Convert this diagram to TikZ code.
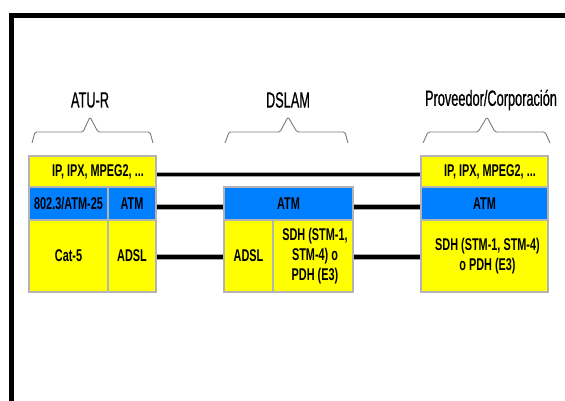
\documentclass[tikz,border=0pt]{standalone}
\usepackage{fontspec}
\newfontfamily\labfont{Liberation Sans}[FakeStretch=0.58,FakeBold=0.6]
\newfontfamily\boxfont{Liberation Sans}[FakeStretch=0.64]
\definecolor{yel}{HTML}{FFFF00}
\definecolor{blu}{HTML}{0080FF}
\definecolor{bordergray}{HTML}{B4B4B4}
\definecolor{bracegray}{HTML}{7A7A7A}
\tikzset{
  cell/.style={draw=bordergray, line width=1.2pt, inner sep=0pt, align=center,
    font=\boxfont\bfseries\fontsize{17}{20}\selectfont},
  ycell/.style={cell, fill=yel},
  bcell/.style={cell, fill=blu},
  lab/.style={font=\labfont\fontsize{22}{24}\selectfont, inner sep=0pt},
  conn/.style={line width=3.4pt, black, preaction={draw, line width=5.6pt, gray!70}},
  bracestyle/.style={draw=bracegray, line width=0.9pt, rounded corners=1.5pt},
}
\begin{document}
\begin{tikzpicture}[x=1pt, y=-1pt]
\useasboundingbox (0,0) rectangle (565,401);
\fill[white] (0,0) rectangle (565,401);
% frame
\coordinate (fbl) at (11.5,401);
\coordinate (ftl) at (11.5,15.5);
\coordinate (ftr) at (565,15.5);
\draw[line width=4.5pt, line join=miter] (fbl) -- (ftl) -- (ftr);

% labels
\node[lab] (labatu) at (90,100) {ATU-R};
\node[lab] (labdslam) at (288,100) {DSLAM};
\node[lab] (labprov) at (491,100) {Proveedor/Corporación};

% braces
\draw[bracestyle] (32,143) -- (35,132) -- (83,132) -- (90,117) -- (98,132) -- (150,132) -- (153,143);
\draw[bracestyle] (225,143) -- (229,132) -- (280,132) -- (288,117) -- (297,132) -- (345,132) -- (348,143);
\draw[bracestyle] (423,143) -- (428,132) -- (478,132) -- (487,117) -- (495,132) -- (545,132) -- (550,143);

% ATU-R stack
\node[ycell, minimum width=127pt, minimum height=31pt] (aip) at (92.5,171.5) {\hspace*{11pt}IP, IPX, MPEG2, ...};
\node[bcell, minimum width=79pt, minimum height=33pt] (a8023) at (68.5,203.5) {802.3/ATM-25};
\node[bcell, minimum width=48pt, minimum height=33pt] (aatm) at (132,203.5) {ATM};
\node[ycell, minimum width=79pt, minimum height=72pt] (acat) at (68.5,256) {Cat-5};
\node[ycell, minimum width=48pt, minimum height=72pt] (aadsl) at (132,256) {ADSL};

% DSLAM stack
\node[bcell, minimum width=129pt, minimum height=33pt] (datm) at (288.5,203.5) {ATM};
\node[ycell, minimum width=49pt, minimum height=72pt] (dadsl) at (248.5,256) {ADSL};
\node[ycell, minimum width=80pt, minimum height=72pt] (dsdh) at (313,256) {\hspace*{4pt}SDH (STM-1,\\\hspace*{4pt}STM-4) o\\\hspace*{4pt}PDH (E3)};

% Proveedor stack
\node[ycell, minimum width=127pt, minimum height=31pt] (pip) at (484.5,171.5) {\hspace*{11pt}IP, IPX, MPEG2, ...};
\node[bcell, minimum width=127pt, minimum height=33pt] (patm) at (484.5,203.5) {ATM};
\node[ycell, minimum width=127pt, minimum height=72pt] (psdh) at (484.5,256) {\hspace*{6pt}SDH (STM-1, STM-4)\\\hspace*{6pt}o PDH (E3)};

% connectors
\draw[conn] ([yshift=-3pt]aip.east) -- ([yshift=-3pt]pip.west);
\draw[conn] ([yshift=-3.5pt]aatm.east) -- ([yshift=-3.5pt]datm.west);
\draw[conn] ([yshift=-3.5pt]datm.east) -- ([yshift=-3.5pt]patm.west);
\draw[conn] ([yshift=-1pt]aadsl.east) -- ([yshift=-1pt]dadsl.west);
\draw[conn] ([yshift=-1pt]dsdh.east) -- ([yshift=-1pt]psdh.west);
\end{tikzpicture}
\end{document}
